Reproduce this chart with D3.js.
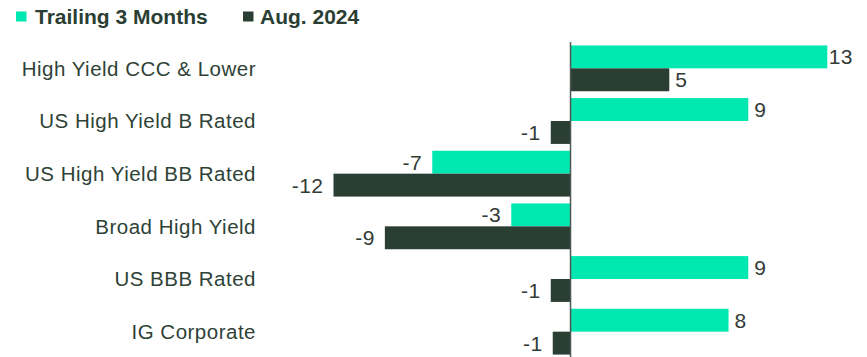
<!DOCTYPE html>
<html><head><meta charset="utf-8">
<script src="https://cdn.jsdelivr.net/npm/d3@7"></script>
<style>body{margin:0;background:#fff}svg{display:block}text{font-family:"Liberation Sans",Arial,sans-serif}</style>
</head><body><svg id="c" width="867" height="357"></svg>
<script>
const categories = ["High Yield CCC & Lower","US High Yield B Rated","US High Yield BB Rated","Broad High Yield","US BBB Rated","IG Corporate"];
const seriesNames = ["Trailing 3 Months","Aug. 2024"];
const trailing3m = [13, 9, -7, -3, 9, 8];
const aug2024 = [5, -1, -12, -9.4, -1, -0.9];
const colors = ["#00E8B2", "#2A3E33"];

const svg = d3.select("#c");
const x = d3.scaleLinear().domain([-12, 13]).range([333.5, 827.3]);
const y = d3.scaleBand().domain(categories).range([42, 358]).paddingInner(0.13).paddingOuter(0.065);
const sub = d3.scaleBand().domain(seriesNames).range([0, y.bandwidth()]);
const fmt = v => String(Math.round(v));

const data = categories.map((c,i)=>({c, vals:[trailing3m[i], aug2024[i]]}));
const g = svg.append("g");
data.forEach(d=>{
  d.vals.forEach((v,j)=>{
    const y0 = y(d.c) + sub(seriesNames[j]);
    g.append("rect").attr("x", Math.min(x(0), x(v))).attr("y", y0)
      .attr("width", Math.abs(x(v)-x(0))).attr("height", sub.bandwidth()).attr("fill", colors[j]);
    const t = g.append("text").attr("y", y0 + sub.bandwidth()/2)
      .attr("dy","0.36em").attr("text-anchor", v>=0?"start":"end")
      .attr("font-size", 21).attr("letter-spacing", 0.5).attr("fill", "#333b36").text(fmt(v));
    if (v >= 0) t.attr("x", Math.min(x(v)+6, 853 - t.node().getComputedTextLength()));
    else t.attr("x", x(v)-10);
  });
});
// zero axis
svg.append("line").attr("x1", x(0)).attr("x2", x(0)).attr("y1", 42).attr("y2", 357)
  .attr("stroke", "#4d5a52").attr("stroke-width", 1.5);
// category axis labels
const ax = d3.axisLeft(y).tickSize(0).tickPadding(0);
const axg = svg.append("g").attr("transform","translate(256,0)").call(ax);
axg.select(".domain").remove();
axg.selectAll("text").attr("font-size", 20.5).attr("letter-spacing", 0.5).attr("fill", "#2E4236")
  .attr("dy","0.36em").attr("font-family","Liberation Sans, Arial, sans-serif");
// legend
const leg = [{n:seriesNames[0], x:16, dx:19, c:colors[0]},{n:seriesNames[1], x:243, dx:17, c:colors[1]}];
leg.forEach(l=>{
  svg.append("rect").attr("x", l.x).attr("y", 11.5).attr("width", 10.5).attr("height", 10).attr("fill", l.c);
  svg.append("text").attr("x", l.x+l.dx).attr("y", 24).attr("font-size", 21).attr("font-weight","bold")
    .attr("fill", "#2A3E33").text(l.n);
});
</script></body></html>
